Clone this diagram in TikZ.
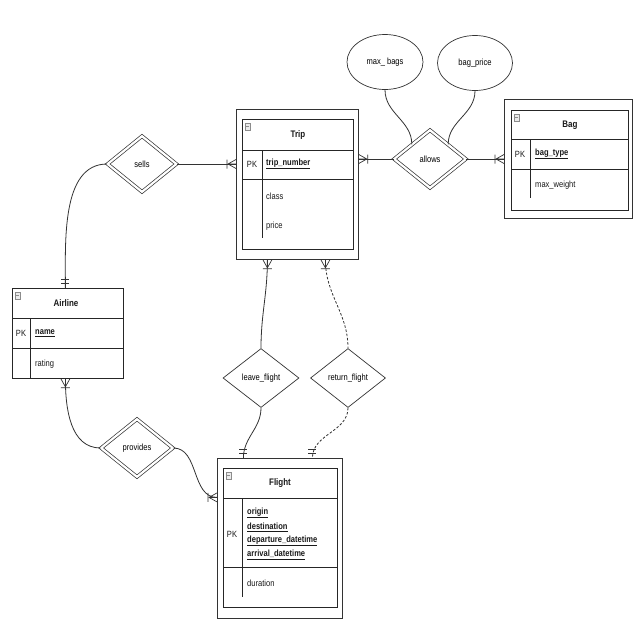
\documentclass[tikz,border=0pt]{standalone}
\usepackage{fontspec}
\setmainfont{Liberation Sans}
\usepackage{graphicx}
\usetikzlibrary{shapes.geometric}
\newcommand\nt[1]{\scalebox{0.84}[1]{#1}}
\newcommand\mkmany[2]{\begin{scope}[shift={(#1)},rotate=#2]\draw[mk] (8,0) -- (0,4.5) (8,0) -- (0,0) (8,0) -- (0,-4.5) (9,-4.5) -- (9,4.5);\end{scope}}
\newcommand\mkone[2]{\begin{scope}[shift={(#1)},rotate=#2]\draw[mk] (5,-4) -- (5,4) (9,-4) -- (9,4);\end{scope}}
\newcommand\icon[1]{\draw[icn] ([shift={(#1)}]0,0) rectangle ++(5,7); \draw[icn] ([shift={(#1)}]1.2,3.5) -- ++(2.6,0);}
\tikzset{
  ln/.style={draw=black!80, line width=0.8pt},
  mk/.style={draw=black!80, line width=0.7pt},
  tbl/.style={draw=black!85, line width=0.8pt},
  box/.style={draw=black!80, line width=0.8pt, rectangle, inner sep=0, anchor=north west},
  rel/.style={diamond, draw=black!80, line width=0.7pt, inner sep=0, font=\fontsize{9}{10}\selectfont},
  wrel/.style={rel, double, double distance=2.2pt},
  attr/.style={ellipse, draw=black!80, line width=0.7pt, inner sep=0, font=\fontsize{9}{10}\selectfont},
  txt/.style={inner sep=0, font=\fontsize{9}{10}\selectfont, text=black!90},
  ttl/.style={inner sep=0, font=\bfseries\fontsize{9.5}{10}\selectfont, text=black!90},
  icn/.style={draw=black!45, line width=0.5pt, fill=black!8},
  dsh/.style={dash pattern=on 2.5pt off 1.8pt}
}
\begin{document}
\begin{tikzpicture}[x=1pt,y=-1pt]
\fill[white] (0,0) rectangle (640,640);
\useasboundingbox (0,0) rectangle (640,640);

% ---------- Trip ----------
\node[box, minimum width=122, minimum height=150] (tripO) at (236,109) {};
\draw[tbl] (242,119) rectangle (353,249);
\draw[tbl] (242,150) -- (353,150) (242,179) -- (353,179);
\draw[tbl] (262,150) -- (262,238);
\icon{245,123}
\node[ttl] (tripT) at (298,135) {\nt{Trip}};
\node[txt] (tripPK) at (252,164) {\nt{PK}};
\node[txt, anchor=west] (tripK) at (266,164) {\nt{\textbf{\underline{trip\_number}}}};
\node[txt, anchor=west] (tripA1) at (266,196) {\nt{class}};
\node[txt, anchor=west] (tripA2) at (266,226) {\nt{price}};

% ---------- Bag ----------
\node[box, minimum width=128, minimum height=119] (bagO) at (504,99) {};
\draw[tbl] (511,110) rectangle (628,210);
\draw[tbl] (511,139) -- (628,139) (511,169) -- (628,169);
\draw[tbl] (530,139) -- (530,198);
\icon{514,114}
\node[ttl] (bagT) at (570,125) {\nt{Bag}};
\node[txt] (bagPK) at (520,154) {\nt{PK}};
\node[txt, anchor=west] (bagK) at (535,154) {\nt{\textbf{\underline{bag\_type}}}};
\node[txt, anchor=west] (bagA1) at (535,185) {\nt{max\_weight}};

% ---------- Airline ----------
\node[box, draw=black!85, minimum width=111, minimum height=90] (airline) at (12,288) {};
\draw[tbl] (12,318) -- (123,318) (12,348) -- (123,348);
\draw[tbl] (30,318) -- (30,378);
\icon{15,292}
\node[ttl] (airT) at (66,303) {\nt{Airline}};
\node[txt] (airPK) at (21,333) {\nt{PK}};
\node[txt, anchor=west] (airK) at (35,333) {\nt{\textbf{\underline{name}}}};
\node[txt, anchor=west] (airA1) at (35,364) {\nt{rating}};

% ---------- Flight ----------
\node[box, minimum width=125, minimum height=160] (flightO) at (217,458) {};
\draw[tbl] (223,468) rectangle (337,607);
\draw[tbl] (223,498) -- (337,498) (223,567) -- (337,567);
\draw[tbl] (242,498) -- (242,597);
\icon{226,472}
\node[ttl] (flT) at (280,483) {\nt{Flight}};
\node[txt] (flPK) at (232,534) {\nt{PK}};
\node[txt, anchor=west] (flK1) at (247,513) {\nt{\textbf{\underline{origin}}}};
\node[txt, anchor=west] (flK2) at (247,527) {\nt{\textbf{\underline{destination}}}};
\node[txt, anchor=west] (flK3) at (247,541) {\nt{\textbf{\underline{departure\_datetime}}}};
\node[txt, anchor=west] (flK4) at (247,555) {\nt{\textbf{\underline{arrival\_datetime}}}};
\node[txt, anchor=west] (flA1) at (247,583) {\nt{duration}};

% ---------- relationships ----------
\node[wrel, minimum width=69, minimum height=56] (sells) at (142,164) {\nt{sells}};
\node[wrel, minimum width=72, minimum height=58] (allows) at (430,159) {\nt{allows}};
\node[wrel, minimum width=72, minimum height=58] (provides) at (137,448) {\nt{provides}};
\node[rel, minimum width=76, minimum height=59] (leave) at (261,378) {\nt{leave\_flight}};
\node[rel, minimum width=75, minimum height=59] (ret) at (348,378) {\nt{return\_flight}};

% ---------- attributes ----------
\node[attr, minimum width=76, minimum height=55] (maxbags) at (385,62) {\nt{max\_ bags}};
\node[attr, minimum width=75, minimum height=55] (bagprice) at (475,63) {\nt{bag\_price}};

% ---------- connector end points ----------
\coordinate (tripL) at (tripO.west |- sells.east);
\coordinate (tripR) at (tripO.east |- allows.west);
\coordinate (bagL) at (bagO.west |- allows.east);
\coordinate (tripB1) at ([xshift=-30pt]tripO.south);
\coordinate (tripB2) at ([xshift=28pt]tripO.south);
\coordinate (flT1) at ([xshift=-36.5pt]flightO.north);
\coordinate (flT2) at ([xshift=32.5pt]flightO.north);
\coordinate (flL) at ([yshift=41pt]flightO.west);
\coordinate (airTop) at ([xshift=-2.5pt]airline.north);
\coordinate (airBot) at ([xshift=-2.5pt]airline.south);

% ---------- connectors ----------
\draw[ln] (sells.east) -- (tripL);
\draw[ln] (sells.west) to[out=180,in=90,looseness=0.9] (airTop);
\draw[ln] (allows.west) -- (tripR);
\draw[ln] (allows.east) -- (bagL);
\draw[ln] (maxbags.south) to[out=-90,in=90] (allows.north west);
\draw[ln] (bagprice.south) to[out=-90,in=90] (allows.north east);
\draw[ln] (tripB1) to[out=-90,in=90] (leave.north);
\draw[ln, dsh] (tripB2) to[out=-90,in=90] (ret.north);
\draw[ln] (leave.south) to[out=-90,in=90] (flT1);
\draw[ln, dsh] (ret.south) to[out=-90,in=90] (flT2);
\draw[ln] (provides.west) to[out=180,in=-90] (airBot);
\draw[ln] (provides.east) to[out=0,in=180] (flL);

% ---------- markers ----------
\mkmany{tripL}{180}
\mkmany{tripR}{0}
\mkmany{bagL}{180}
\mkmany{tripB1}{-90}
\mkmany{tripB2}{-90}
\mkmany{airBot}{-90}
\mkmany{flL}{180}
\mkone{airTop}{90}
\mkone{flT1}{90}
\mkone{flT2}{90}
\end{tikzpicture}
\end{document}
